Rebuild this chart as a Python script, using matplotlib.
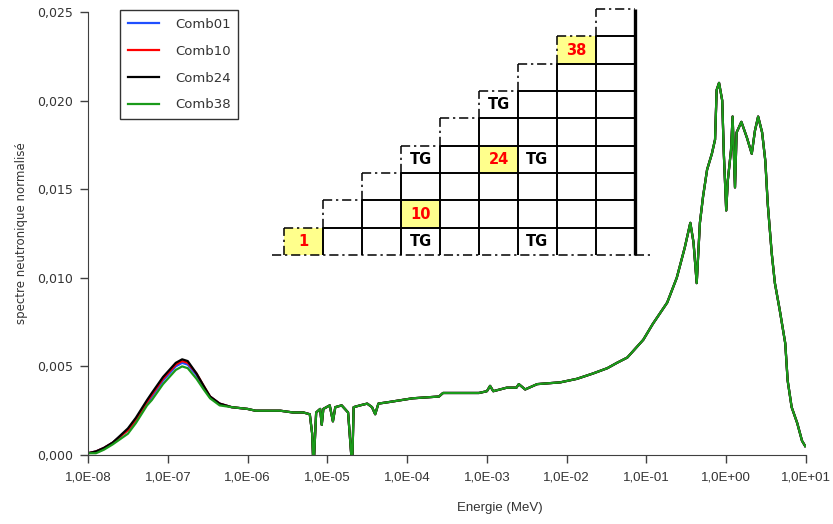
import matplotlib
matplotlib.use("Agg")
import matplotlib.pyplot as plt
import numpy as np
from matplotlib.patches import Rectangle
from matplotlib.ticker import FuncFormatter, FixedLocator

# --- data (log10 of energy in MeV, normalised spectrum) ---
# thermal region, where the four combinations differ
thermal_log_e = [-8.0, -7.9, -7.8, -7.69, -7.5, -7.4, -7.26, -7.2, -7.06, -7.0,
                 -6.9, -6.82, -6.75, -6.64, -6.55, -6.47, -6.35, -6.2, -6.0]
comb01_thermal = [0.0001, 0.0002, 0.0004, 0.0007, 0.0014, 0.0019, 0.0029, 0.0033, 0.0042, 0.0045,
                  0.0050, 0.0052, 0.0051, 0.0045, 0.0038, 0.0033, 0.0029, 0.0027, 0.0026]
comb10_thermal = [0.0001, 0.0002, 0.0004, 0.0007, 0.0014, 0.0020, 0.0030, 0.0034, 0.0043, 0.0046,
                  0.0051, 0.0053, 0.0052, 0.0046, 0.0039, 0.0033, 0.0029, 0.0027, 0.0026]
comb24_thermal = [0.0001, 0.0002, 0.0004, 0.0007, 0.0015, 0.0021, 0.0031, 0.0035, 0.0044, 0.0047,
                  0.0052, 0.0054, 0.0053, 0.0046, 0.0039, 0.0033, 0.0029, 0.0027, 0.0026]
comb38_thermal = [0.0001, 0.0001, 0.0003, 0.0006, 0.0012, 0.0018, 0.0028, 0.0031, 0.0040, 0.0043,
                  0.0048, 0.0050, 0.0049, 0.0043, 0.0037, 0.0032, 0.0028, 0.0027, 0.0026]

# epithermal and fast region, common to all combinations
common_log_e = [-5.9, -5.59, -5.43, -5.3, -5.22, -5.19, -5.18, -5.165, -5.14, -5.09,
                -5.07, -5.05, -4.97, -4.93, -4.90, -4.82, -4.74, -4.70, -4.685, -4.67,
                -4.59, -4.50, -4.44, -4.40, -4.36, -4.21, -3.93, -3.6, -3.55, -3.42,
                -3.1, -3.0, -2.96, -2.92, -2.75, -2.63, -2.60, -2.52, -2.37, -2.08,
                -1.87, -1.67, -1.49, -1.37, -1.24, -1.12, -1.04, -0.92, -0.74, -0.62,
                -0.52, -0.45, -0.41, -0.37, -0.33, -0.29, -0.24, -0.18, -0.14, -0.12,
                -0.09, -0.05, -0.03, 0.0, 0.02, 0.06, 0.08, 0.11, 0.13, 0.19,
                0.26, 0.32, 0.36, 0.40, 0.45, 0.49, 0.52, 0.57, 0.61, 0.67,
                0.74, 0.77, 0.82, 0.89, 0.95, 0.99]
common_flux = [0.0025, 0.0025, 0.0024, 0.0024, 0.0023, 0.0012, 0.0, 0.0, 0.0024, 0.0026,
               0.0017, 0.0026, 0.0028, 0.0019, 0.0027, 0.0028, 0.0024, 0.0, 0.0, 0.0027,
               0.0028, 0.0029, 0.0027, 0.0023, 0.0029, 0.0030, 0.0032, 0.0033, 0.0035, 0.0035,
               0.0035, 0.0036, 0.0039, 0.0036, 0.0038, 0.0038, 0.0040, 0.0037, 0.0040, 0.0041,
               0.0043, 0.0046, 0.0049, 0.0052, 0.0055, 0.0061, 0.0065, 0.0074, 0.0086, 0.0100,
               0.0117, 0.0131, 0.0120, 0.0097, 0.0131, 0.0146, 0.0161, 0.0170, 0.0178, 0.0206,
               0.0210, 0.0200, 0.0170, 0.0138, 0.0155, 0.0172, 0.0191, 0.0151, 0.0182, 0.0188,
               0.0179, 0.0170, 0.0183, 0.0191, 0.0182, 0.0166, 0.0142, 0.0114, 0.0097, 0.0082,
               0.0063, 0.0042, 0.0027, 0.0018, 0.0008, 0.0005]

series_names = ["Comb01", "Comb10", "Comb24", "Comb38"]
series_colors = ["#1f4fff", "#ff0000", "#000000", "#1a9a1a"]
series_thermal = [comb01_thermal, comb10_thermal, comb24_thermal, comb38_thermal]

# inset lattice diagram (column, row, label)
yellow_cells = [(0, 0, "1"), (3, 1, "10"), (5, 3, "24"), (7, 7, "38")]
tg_cells = [(3, 0), (6, 0), (3, 3), (6, 3), (5, 5)]
n_cols = 9

energy = 10 ** np.array(thermal_log_e + common_log_e)

W, H = 833, 524
fig = plt.figure(figsize=(W / 100, H / 100), dpi=100)
ax = fig.add_axes([88 / W, 1 - 455 / H, 718 / W, 443 / H])

for name, color, th in zip(series_names, series_colors, series_thermal):
    ax.plot(energy, th + common_flux, color=color, lw=1.6, label=name)

ax.set_xscale("log")
ax.set_xlim(1e-8, 1e1)
ax.set_ylim(0, 0.025)
ax.xaxis.set_major_locator(FixedLocator(10.0 ** np.arange(-8, 2)))
ax.xaxis.set_minor_locator(FixedLocator([]))
ax.xaxis.set_major_formatter(FuncFormatter(lambda v, p: "1,0E%+03d" % round(np.log10(v))))
ax.set_yticks(np.arange(0, 0.0251, 0.005))
ax.yaxis.set_major_formatter(FuncFormatter(lambda v, p: ("%.3f" % v).replace(".", ",")))

for s in ["top", "right"]:
    ax.spines[s].set_visible(False)
for s in ["left", "bottom"]:
    ax.spines[s].set_color("#404040")
ax.tick_params(direction="out", length=6, width=1, color="#404040")
ax.tick_params(axis="y", labelsize=9, pad=5, labelcolor="#333333")
ax.tick_params(axis="x", pad=6, labelcolor="#333333")
for lbl in ax.get_xticklabels():
    lbl.set_family(["Liberation Sans Narrow", "Liberation Sans"])
    lbl.set_fontsize(9.5)

ax.set_xlabel("Energie (MeV)", family=["Liberation Sans Narrow", "Liberation Sans"],
              fontsize=9.5, color="#333333", va="center")
ax.xaxis.set_label_coords(0.574, -0.12)
ax.set_ylabel("spectre neutronique normalisé", fontsize=8.5, color="#333333", va="center")
ax.yaxis.set_label_coords(-0.092, 0.5)

leg = ax.legend(loc="upper left", bbox_to_anchor=(0.0446, 1.0045), borderaxespad=0,
                fancybox=False, framealpha=1, edgecolor="#333333", fontsize=9.5,
                handlelength=2.35, handletextpad=1.2, labelspacing=1.05, borderpad=0.6)
leg.get_frame().set_linewidth(1.0)
for t in leg.get_texts():
    t.set_color("#333333")

# --- inset lattice ---
ins = fig.add_axes([284 / W, 1 - 255 / H, 351 / W, 246 / H])
ins.set_xlim(0, n_cols)
ins.set_ylim(0, n_cols)
ins.axis("off")
ins.patch.set_visible(False)

dash = (0, (6, 2.5, 1.5, 2.5))
solid_kw = dict(color="black", lw=1.4, solid_capstyle="butt")
dash_kw = dict(color="black", lw=1.1, linestyle=dash)

for c, r, txt in yellow_cells:
    ins.add_patch(Rectangle((c, r), 1, 1, facecolor="#ffff8c", edgecolor="none", zorder=0))
    ins.text(c + 0.5, r + 0.5, txt, color="red", fontsize=10.5, fontweight="bold",
             ha="center", va="center")
for c, r in tg_cells:
    ins.text(c + 0.5, r + 0.5, "TG", color="black", fontsize=10.5, fontweight="bold",
             ha="center", va="center")

# staircase: column c holds rows 0..c, outer edges are dash-dot
ins.plot([0, 0], [0, 1], **dash_kw)
for c in range(1, n_cols):
    ins.plot([c, c], [0, c], **solid_kw)
    ins.plot([c, c], [c, c + 1], **dash_kw)
    ins.plot([c, n_cols], [c, c], **solid_kw)
    ins.plot([c - 1, c], [c, c], **dash_kw)
ins.plot([n_cols - 1, n_cols], [n_cols, n_cols], **dash_kw)
ins.plot([n_cols, n_cols], [0, n_cols], color="black", lw=2.4, solid_capstyle="butt")
ins.plot([-0.31, n_cols + 0.38], [0, 0], **dash_kw)
for ln in ins.lines:
    ln.set_clip_on(False)

fig.savefig("out.png", dpi=100)
